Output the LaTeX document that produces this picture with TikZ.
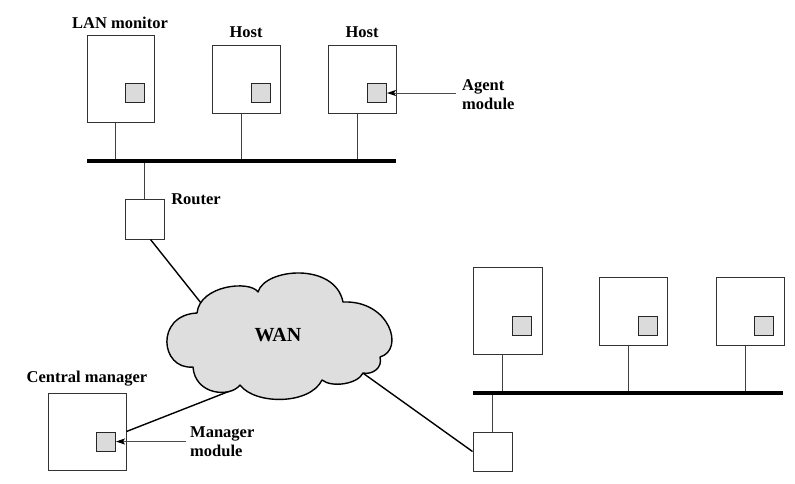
\documentclass[tikz,border=0pt]{standalone}
\usepackage{fontspec}
\setmainfont{Liberation Serif}
\usetikzlibrary{arrows.meta,positioning}
\tikzset{
  >={Stealth[length=9pt,width=6pt,inset=2pt,black]},
}
\tikzstyle{station}=[draw=black!80,line width=1pt,inner sep=0pt]
\tikzstyle{module}=[draw=black!85,fill=black!14,line width=1pt,minimum size=19pt,inner sep=0pt]
\tikzstyle{link}=[black!75,line width=1pt]
\tikzstyle{bus}=[line width=4pt]
\tikzstyle{wanlink}=[line width=1.4pt]
\tikzstyle{pointer}=[black!70,line width=1pt,->]
\tikzstyle{cloud}=[draw,fill=black!13,line width=1.4pt,line join=round]
\tikzstyle{every node}=[font=\bfseries\fontsize{16.5}{19}\selectfont]

\begin{document}
\begin{tikzpicture}[x=1pt,y=-1pt]
    \useasboundingbox (0,0) rectangle (795,483);
    \node[station,minimum width=67pt,minimum height=87pt] (mon) at (120.5,78.5) {};
    \node[station,minimum size=68pt] (hostA) at (246,79) {};
    \node[station,minimum size=68pt] (hostB) at (362,79) {};
    \node[module] (monmod) at (135,93) {};
    \node[module] (hostAmod) at (260.5,93) {};
    \node[module] (hostBmod) at (377,93) {};
    \node (monlbl) at (120,22.5) {LAN monitor};
    \node (hostAlbl) at (246,32) {Host};
    \node (hostBlbl) at (362,32) {Host};
    \node[align=left,anchor=west,inner xsep=6pt] (agent) at (456,94.4) {Agent\\module};
    \draw[pointer] (agent.west |- hostBmod.east) -- (hostBmod.east);
    \node[station,minimum width=39pt,minimum height=40pt] (rtA) at (144.5,219) {};
    \node (rtAlbl) at (196,199) {Router};
    \coordinate (busA) at (87,161);
    \coordinate (busAend) at (396,161);
    \foreach \s in {mon,hostA,hostB}{
      \path ([xshift=-5pt]\s.south) coordinate (tap);
      \draw[link] (tap) -- (tap |- busA);
    }
    \draw[link] (rtA.north) -- (rtA.north |- busA);
    \draw[bus] (busA) -- (busAend);
    % second LAN
    \node[station,minimum width=69pt,minimum height=87pt] (srvA) at (507.5,310.5) {};
    \node[station,minimum size=68pt] (srvB) at (633.5,311) {};
    \node[station,minimum size=68pt] (srvC) at (750,311) {};
    \node[module] (srvAmod) at (522,325.5) {};
    \node[module] (srvBmod) at (648,325.5) {};
    \node[module] (srvCmod) at (764,325.5) {};
    \node[station,minimum size=39pt] (rtB) at (492.5,451.5) {};
    \coordinate (busB) at (473,393);
    \coordinate (busBend) at (783,393);
    \foreach \s in {srvA,srvB,srvC}{
      \path ([xshift=-5pt]\s.south) coordinate (tap);
      \draw[link] (tap) -- (tap |- busB);
    }
    \draw[link] (rtB.north) -- (rtB.north |- busB);
    \draw[bus] (busB) -- (busBend);
    % central manager
    \node[station,minimum width=78pt,minimum height=77pt] (cm) at (87,431.5) {};
    \node[module] (cmmod) at (106,441.5) {};
    \node (cmlbl) at (87,379) {Central manager};
    \node[align=left,anchor=west,inner xsep=4pt] (mgr) at (186,441.5) {Manager\\module};
    \draw[pointer] (mgr.west |- cmmod.east) -- (cmmod.east);
    % WAN
    \coordinate (wanNW) at (205,308);
    \coordinate (wanSW) at (235,389);
    \coordinate (wanSE) at (360,371);
    \draw[wanlink] ([xshift=6pt]rtA.south) -- (wanNW);
    \draw[wanlink] (cm.east) -- (wanSW);
    \draw[wanlink] (wanSE) -- (rtB.west);
    \draw[cloud] (197,313) .. controls (200,285) and (250,280) .. (258,292)
      .. controls (265,268) and (335,262) .. (343,302)
      .. controls (390,300) and (405,350) .. (380,357)
      .. controls (383,368) and (372,375) .. (363,373)
      .. controls (358,384) and (332,388) .. (322,380)
      .. controls (310,405) and (255,405) .. (240,385)
      .. controls (230,398) and (195,395) .. (193,367)
      .. controls (160,370) and (155,315) .. (197,313) -- cycle;
    \node[font=\bfseries\fontsize{20}{24}\selectfont] (wan) at (278,335.5) {WAN};
\end{tikzpicture}
\end{document}
